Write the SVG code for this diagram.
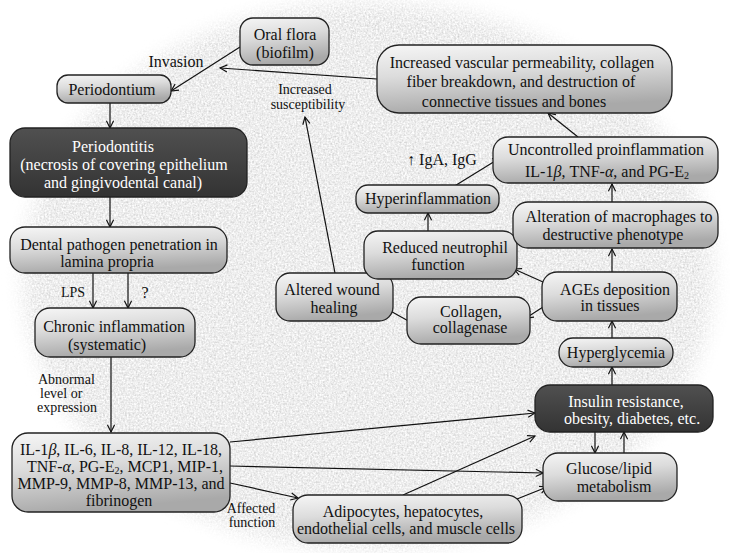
<svg xmlns="http://www.w3.org/2000/svg" width="730" height="553" viewBox="0 0 730 553">
<style>
.bx{fill:url(#lg);stroke:#222;stroke-width:1.3}
.dk{fill:url(#dg);stroke:#222;stroke-width:1.3}
text{font-family:"Liberation Serif","Times New Roman",serif;font-size:16px;fill:#111}
.t{text-anchor:middle}
.w{fill:#fff}
.lb{font-size:14px}
.c line{stroke:#111;stroke-width:1.2;marker-end:url(#ah)}
.sub{font-size:10px}
</style>
<defs>
<linearGradient id="lg" x1="0" y1="0" x2="0.25" y2="1">
<stop offset="0" stop-color="#f6f6f6"/><stop offset="0.45" stop-color="#dcdcdc"/><stop offset="1" stop-color="#a9a9a9"/>
</linearGradient>
<linearGradient id="dg" x1="0" y1="0" x2="0" y2="1">
<stop offset="0" stop-color="#505050"/><stop offset="1" stop-color="#333"/>
</linearGradient>
<filter id="blob" x="-10%" y="-10%" width="120%" height="120%">
<feGaussianBlur in="SourceGraphic" stdDeviation="10" result="shape"/>
<feTurbulence type="fractalNoise" baseFrequency="0.55" numOctaves="3" seed="5" result="noise"/>
<feColorMatrix in="noise" type="saturate" values="0" result="gray"/>
<feComponentTransfer in="gray" result="g2">
<feFuncR type="linear" slope="0.7" intercept="0.5"/>
<feFuncG type="linear" slope="0.7" intercept="0.5"/>
<feFuncB type="linear" slope="0.7" intercept="0.5"/>
<feFuncA type="linear" slope="0" intercept="1"/>
</feComponentTransfer>
<feComposite in="g2" in2="shape" operator="in"/>
</filter>
<marker id="ah" viewBox="0 0 10 10" refX="9" refY="5" markerWidth="9" markerHeight="9" orient="auto" markerUnits="userSpaceOnUse">
<path d="M1,1 L9,5 L1,9" fill="none" stroke="#111" stroke-width="1.3"/>
</marker>
</defs>
<rect width="730" height="553" fill="#fff"/>
<ellipse cx="368" cy="276" rx="345" ry="274" fill="#fff" filter="url(#blob)"/>

<g class="c" id="connectors">
<line x1="240" y1="47" x2="171" y2="91"/>
<line x1="377" y1="79" x2="220" y2="68"/>
<line x1="335" y1="273" x2="305" y2="117"/>
<line x1="110" y1="103" x2="110" y2="128"/>
<line x1="110" y1="197" x2="110" y2="227"/>
<line x1="93" y1="273" x2="93" y2="308"/>
<line x1="128" y1="273" x2="128" y2="308"/>
<line x1="111" y1="357" x2="111" y2="432"/>
<line x1="230" y1="442" x2="535" y2="413"/>
<line x1="230" y1="466" x2="543" y2="473"/>
<line x1="230" y1="483" x2="298" y2="498"/>
<line x1="403" y1="495" x2="535" y2="436"/>
<line x1="517" y1="499" x2="547" y2="487"/>
<line x1="595" y1="432" x2="595" y2="453"/>
<line x1="624" y1="453" x2="624" y2="432"/>
<line x1="612" y1="385" x2="612" y2="367"/>
<line x1="612" y1="338" x2="612" y2="321"/>
<line x1="543" y1="307" x2="526" y2="318"/>
<line x1="543" y1="282" x2="514" y2="269"/>
<line x1="412" y1="323" x2="385" y2="308"/>
<line x1="612" y1="272" x2="612" y2="249"/>
<line x1="612" y1="202" x2="612" y2="184"/>
<line x1="428" y1="231" x2="428" y2="213"/>
<line x1="453" y1="187" x2="500" y2="158"/>
<line x1="578" y1="137" x2="548" y2="113"/>
</g>

<g id="labels">
<text class="t" x="176" y="67">Invasion</text>
<text class="t lb" x="305" y="94">Increased</text>
<text class="t lb" x="308" y="109">susceptibility</text>
<text class="t" x="442" y="165">↑ IgA, IgG</text>
<text class="t lb" x="73" y="297">LPS</text>
<text class="t" x="145" y="298" font-size="12">?</text>
<text class="lb" x="38" y="384">Abnormal</text>
<text class="lb" x="40" y="398">level or</text>
<text class="lb" x="37" y="412">expression</text>
<text class="t lb" x="251" y="513">Affected</text>
<text class="t lb" x="252" y="527">function</text>
</g>

<g id="oral-flora">
<rect class="bx" x="240" y="18" width="89" height="47" rx="13"/>
<text class="t" x="285" y="40">Oral flora</text>
<text class="t" x="285" y="58">(biofilm)</text>
</g>
<g id="periodontium">
<rect class="bx" x="57" y="75" width="114" height="28" rx="11"/>
<text class="t" x="112" y="95">Periodontium</text>
</g>
<g id="periodontitis">
<rect class="dk" x="10" y="128" width="237" height="69" rx="15"/>
<text class="t w" x="113" y="152">Periodontitis</text>
<text class="t w" x="124" y="170">(necrosis of covering epithelium</text>
<text class="t w" x="123" y="188">and gingivodental canal)</text>
</g>
<g id="dental-pathogen">
<rect class="bx" x="10" y="227" width="217" height="46" rx="15"/>
<text class="t" x="119" y="250">Dental pathogen penetration in</text>
<text class="t" x="107" y="267">lamina propria</text>
</g>
<g id="chronic-inflammation">
<rect class="bx" x="35" y="308" width="160" height="49" rx="15"/>
<text class="t" x="114" y="332">Chronic inflammation</text>
<text class="t" x="107" y="350">(systematic)</text>
</g>
<g id="cytokines">
<rect class="bx" x="12" y="433" width="218" height="79" rx="16"/>
<text class="t" x="121" y="455">IL-1<tspan font-style="italic">β</tspan>, IL-6, IL-8, IL-12, IL-18,</text>
<text class="t" x="125" y="472">TNF-<tspan font-style="italic">α</tspan>, PG-E<tspan class="sub" dy="2">2</tspan><tspan dy="-2">, MCP1, MIP-1,</tspan></text>
<text class="t" x="121" y="489">MMP-9, MMP-8, MMP-13, and</text>
<text class="t" x="119" y="506">fibrinogen</text>
</g>
<g id="adipocytes">
<rect class="bx" x="293" y="495" width="229" height="48" rx="15"/>
<text class="t" x="403" y="517">Adipocytes, hepatocytes,</text>
<text class="t" x="406" y="534">endothelial cells, and muscle cells</text>
</g>
<g id="glucose-lipid">
<rect class="bx" x="543" y="453" width="134" height="48" rx="15"/>
<text class="t" x="609" y="474">Glucose/lipid</text>
<text class="t" x="614" y="492">metabolism</text>
</g>
<g id="insulin-resistance">
<rect class="dk" x="535" y="385" width="178" height="47" rx="15"/>
<text class="t w" x="626" y="407">Insulin resistance,</text>
<text class="t w" x="632" y="424">obesity, diabetes, etc.</text>
</g>
<g id="hyperglycemia">
<rect class="bx" x="559" y="338" width="114" height="29" rx="14"/>
<text class="t" x="616" y="358">Hyperglycemia</text>
</g>
<g id="ages">
<rect class="bx" x="542" y="272" width="135" height="49" rx="15"/>
<text class="t" x="615" y="295">AGEs deposition</text>
<text class="t" x="610" y="311">in tissues</text>
</g>
<g id="collagen">
<rect class="bx" x="407" y="297" width="123" height="47" rx="14"/>
<text class="t" x="471" y="317">Collagen,</text>
<text class="t" x="470" y="333">collagenase</text>
</g>
<g id="altered-wound">
<rect class="bx" x="276" y="273" width="117" height="48" rx="14"/>
<text class="t" x="332" y="295">Altered wound</text>
<text class="t" x="334" y="313">healing</text>
</g>
<g id="reduced-neutrophil">
<rect class="bx" x="364" y="231" width="153" height="48" rx="14"/>
<text class="t" x="445" y="253">Reduced neutrophil</text>
<text class="t" x="438" y="270">function</text>
</g>
<g id="hyperinflammation">
<rect class="bx" x="356" y="185" width="143" height="28" rx="12"/>
<text class="t" x="428" y="204">Hyperinflammation</text>
</g>
<g id="macrophages">
<rect class="bx" x="513" y="202" width="205" height="46" rx="15"/>
<text class="t" x="619" y="222">Alteration of macrophages to</text>
<text class="t" x="613" y="240">destructive phenotype</text>
</g>
<g id="uncontrolled">
<rect class="bx" x="493" y="137" width="225" height="46" rx="15"/>
<text class="t" x="606" y="155">Uncontrolled proinflammation</text>
<text class="t" x="607" y="177">IL-1<tspan font-style="italic">β</tspan>, TNF-<tspan font-style="italic">α</tspan>, and PG-E<tspan class="sub" dy="2">2</tspan></text>
</g>
<g id="vascular">
<rect class="bx" x="377" y="45" width="295" height="68" rx="22"/>
<text class="t" x="522" y="68">Increased vascular permeability, collagen</text>
<text class="t" x="521" y="87">fiber breakdown, and destruction of</text>
<text class="t" x="514" y="107">connective tissues and bones</text>
</g>
</svg>
